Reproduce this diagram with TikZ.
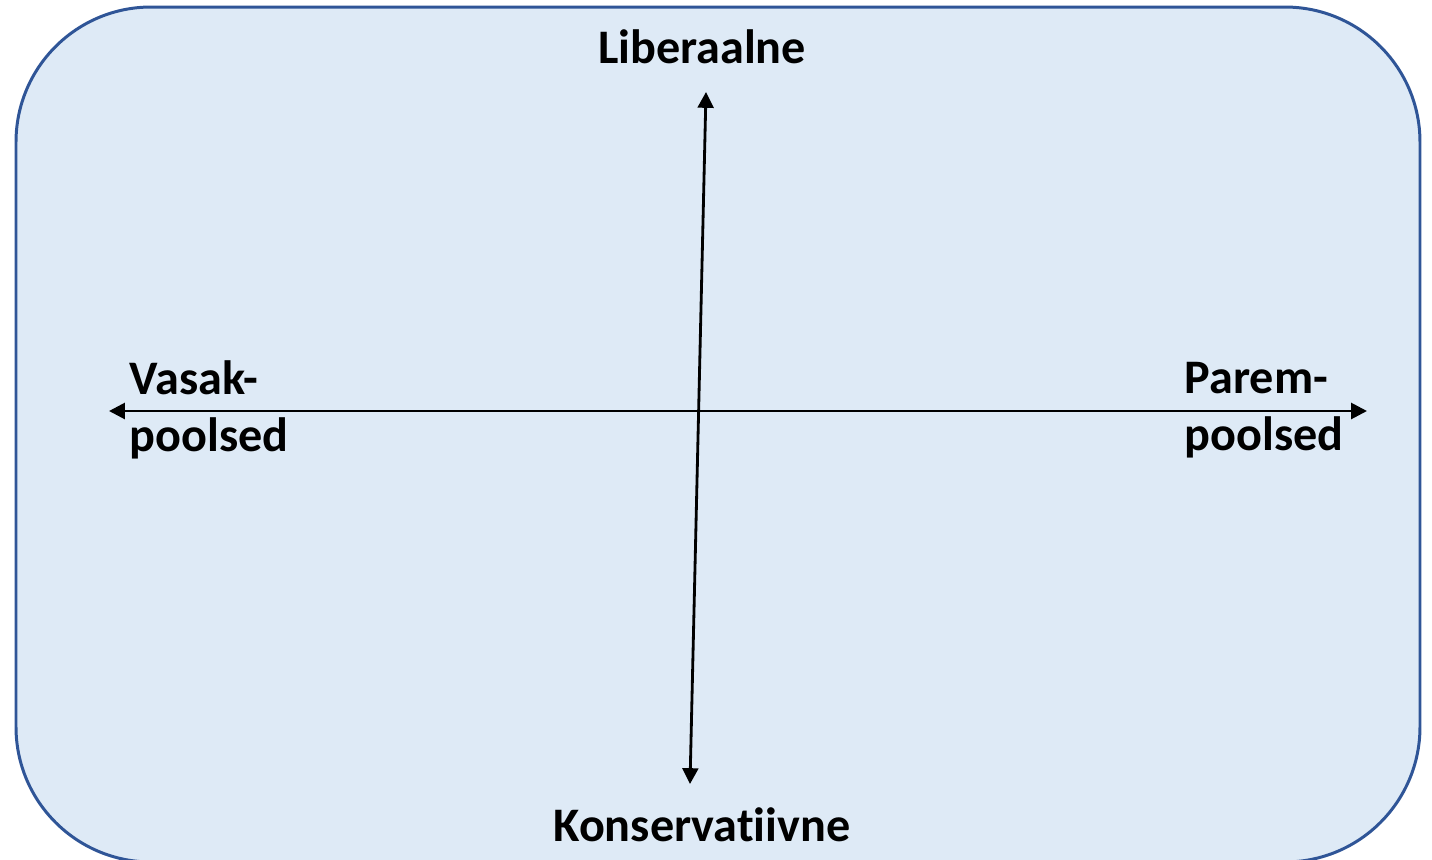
\documentclass[tikz,border=0pt]{standalone}
\usepackage{fontspec}
\setmainfont{Carlito}[Ligatures=NoCommon]
\usetikzlibrary{arrows.meta}
\definecolor{panelfill}{HTML}{DEEAF6}
\definecolor{panelline}{HTML}{2F5597}
\begin{document}
\begin{tikzpicture}[
            x=0.01cm, y=-0.01cm,
            axislabel/.style={font=\fontsize{13.7}{16.2}\selectfont\bfseries, inner sep=0pt},
            axis/.style={line width=0.8pt, {Triangle[length=4.5pt, width=4.5pt]}-{Triangle[length=4.5pt, width=4.5pt]}}
        ]
            \useasboundingbox (0, 0) rectangle (1432, 860);
            \draw[panelline, fill=panelfill, line width=0.85pt, rounded corners=1.35cm] (16, 7) rectangle (1420, 862);
            \coordinate (top) at (706, 92);
            \coordinate (bottom) at (690, 784);
            \coordinate (left) at (109, 411);
            \coordinate (right) at (1367, 411);
            \draw[axis] (left) -- (right);
            \draw[axis] (bottom) -- (top);
            \node[axislabel] (lib) at (702, 47) {Liberaalne};
            \node[axislabel] (kons) at (702, 825) {Konservatiivne};
            \node[axislabel, align=left, anchor=west] (vasak) at (129, 410) {Vasak-\\poolsed};
            \node[axislabel, align=left, anchor=west] (parem) at (1184, 410) {Parem-\\poolsed};
        \end{tikzpicture}
\end{document}
